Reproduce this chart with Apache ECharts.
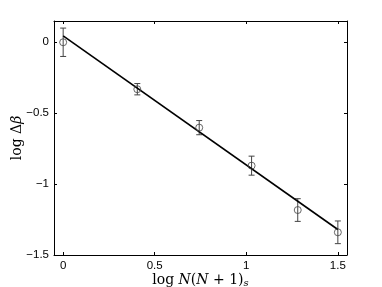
<!DOCTYPE html>
<html><head><meta charset="utf-8">
<script src="https://cdn.jsdelivr.net/npm/echarts@6/dist/echarts.min.js"></script>
<style>html,body{margin:0;padding:0;background:#fff}#c{width:382px;height:287px}</style>
</head><body><div id="c"></div>
<script>
const xVals = [0, 0.405, 0.743, 1.029, 1.281, 1.5];
const yVals = [0, -0.331, -0.602, -0.870, -1.183, -1.340];
const yErr = [0.10, 0.04, 0.05, 0.067, 0.08, 0.08];
const fitX = [0, 1.5];
const fitY = [0.045, -1.32];
const xTicks = [0, 0.5, 1, 1.5];
const yTicks = [-1.5, -1, -0.5, 0];

const pts = xVals.map((x, i) => [x, yVals[i]]);
const errData = xVals.map((x, i) => [x, yVals[i] - yErr[i], yVals[i] + yErr[i]]);
const fitData = fitX.map((x, i) => [x, fitY[i]]);
const fmt = v => String(v).replace('-', '\u2212');
const tickFont = {fontFamily: 'Liberation Sans', fontSize: 11.5, color: '#000'};

const chart = echarts.init(document.getElementById('c'), null, {renderer: 'canvas'});
const common = {min: -0.05, max: 1.55, type: 'value', splitLine: {show: false}};
chart.setOption({
  animation: false,
  grid: {left: 54, top: 21, right: 35, bottom: 32, show: false, containLabel: false, outerBoundsMode: 'none'},
  xAxis: [
    Object.assign({}, common, {position: 'bottom',
      axisLine: {show: true, onZero: false, lineStyle: {color: '#000', width: 1}},
      axisTick: {show: true, inside: true, length: 3, customValues: xTicks, lineStyle: {color: '#000'}},
      axisLabel: Object.assign({customValues: xTicks, formatter: fmt, margin: 5}, tickFont),
      name: '{r|log }{i|N}{r|(}{i|N}{r| + 1)}{s|s}', nameLocation: 'middle', nameGap: 17, nameMoveOverlap: false,
      nameTextStyle: {rich: {
        r: {fontFamily: 'DejaVu Serif', fontSize: 14, color: '#000'},
        i: {fontFamily: 'DejaVu Serif', fontStyle: 'italic', fontSize: 14, color: '#000'},
        s: {fontFamily: 'DejaVu Serif', fontStyle: 'italic', fontSize: 10, color: '#000', verticalAlign: 'bottom', padding: [6, 0, 0, 0]}
      }}}),
    Object.assign({}, common, {position: 'top',
      axisLine: {show: true, onZero: false, lineStyle: {color: '#000', width: 1}},
      axisTick: {show: true, inside: true, length: 3, customValues: xTicks, lineStyle: {color: '#000'}},
      axisLabel: {show: false}})
  ],
  yAxis: [
    {type: 'value', min: -1.5, max: 0.15, position: 'left', splitLine: {show: false},
      axisLine: {show: true, onZero: false, lineStyle: {color: '#000', width: 1}},
      axisTick: {show: true, inside: true, length: 3, customValues: yTicks, lineStyle: {color: '#000'}},
      axisLabel: Object.assign({customValues: yTicks, formatter: fmt, margin: 5}, tickFont),
      name: '{r|log }{r|Δ}{i|β}', nameLocation: 'middle', nameGap: 30, nameRotate: 90, nameMoveOverlap: false,
      nameTextStyle: {rich: {
        r: {fontFamily: 'DejaVu Serif', fontSize: 14, color: '#000'},
        i: {fontFamily: 'DejaVu Serif', fontStyle: 'italic', fontSize: 14, color: '#000'}
      }}},
    {type: 'value', min: -1.5, max: 0.15, position: 'right', splitLine: {show: false},
      axisLine: {show: true, onZero: false, lineStyle: {color: '#000', width: 1}},
      axisTick: {show: true, inside: true, length: 3, customValues: yTicks, lineStyle: {color: '#000'}},
      axisLabel: {show: false}}
  ],
  series: [
    {type: 'line', data: fitData, symbol: 'none', lineStyle: {color: '#000', width: 1.6}, z: 3},
    {type: 'custom', data: errData, z: 2,
      renderItem: function (params, api) {
        const x = api.value(0);
        const lo = api.coord([x, api.value(1)]);
        const hi = api.coord([x, api.value(2)]);
        const w = 3;
        const st = {stroke: '#444', lineWidth: 1};
        return {type: 'group', children: [
          {type: 'line', shape: {x1: lo[0], y1: lo[1], x2: hi[0], y2: hi[1]}, style: st},
          {type: 'line', shape: {x1: lo[0] - w, y1: lo[1], x2: lo[0] + w, y2: lo[1]}, style: st},
          {type: 'line', shape: {x1: hi[0] - w, y1: hi[1], x2: hi[0] + w, y2: hi[1]}, style: st}
        ]};
      }},
    {type: 'scatter', data: pts, symbol: 'circle', symbolSize: 7, z: 4,
      itemStyle: {color: 'transparent', borderColor: '#444', borderWidth: 1}}
  ]
});
</script></body></html>
